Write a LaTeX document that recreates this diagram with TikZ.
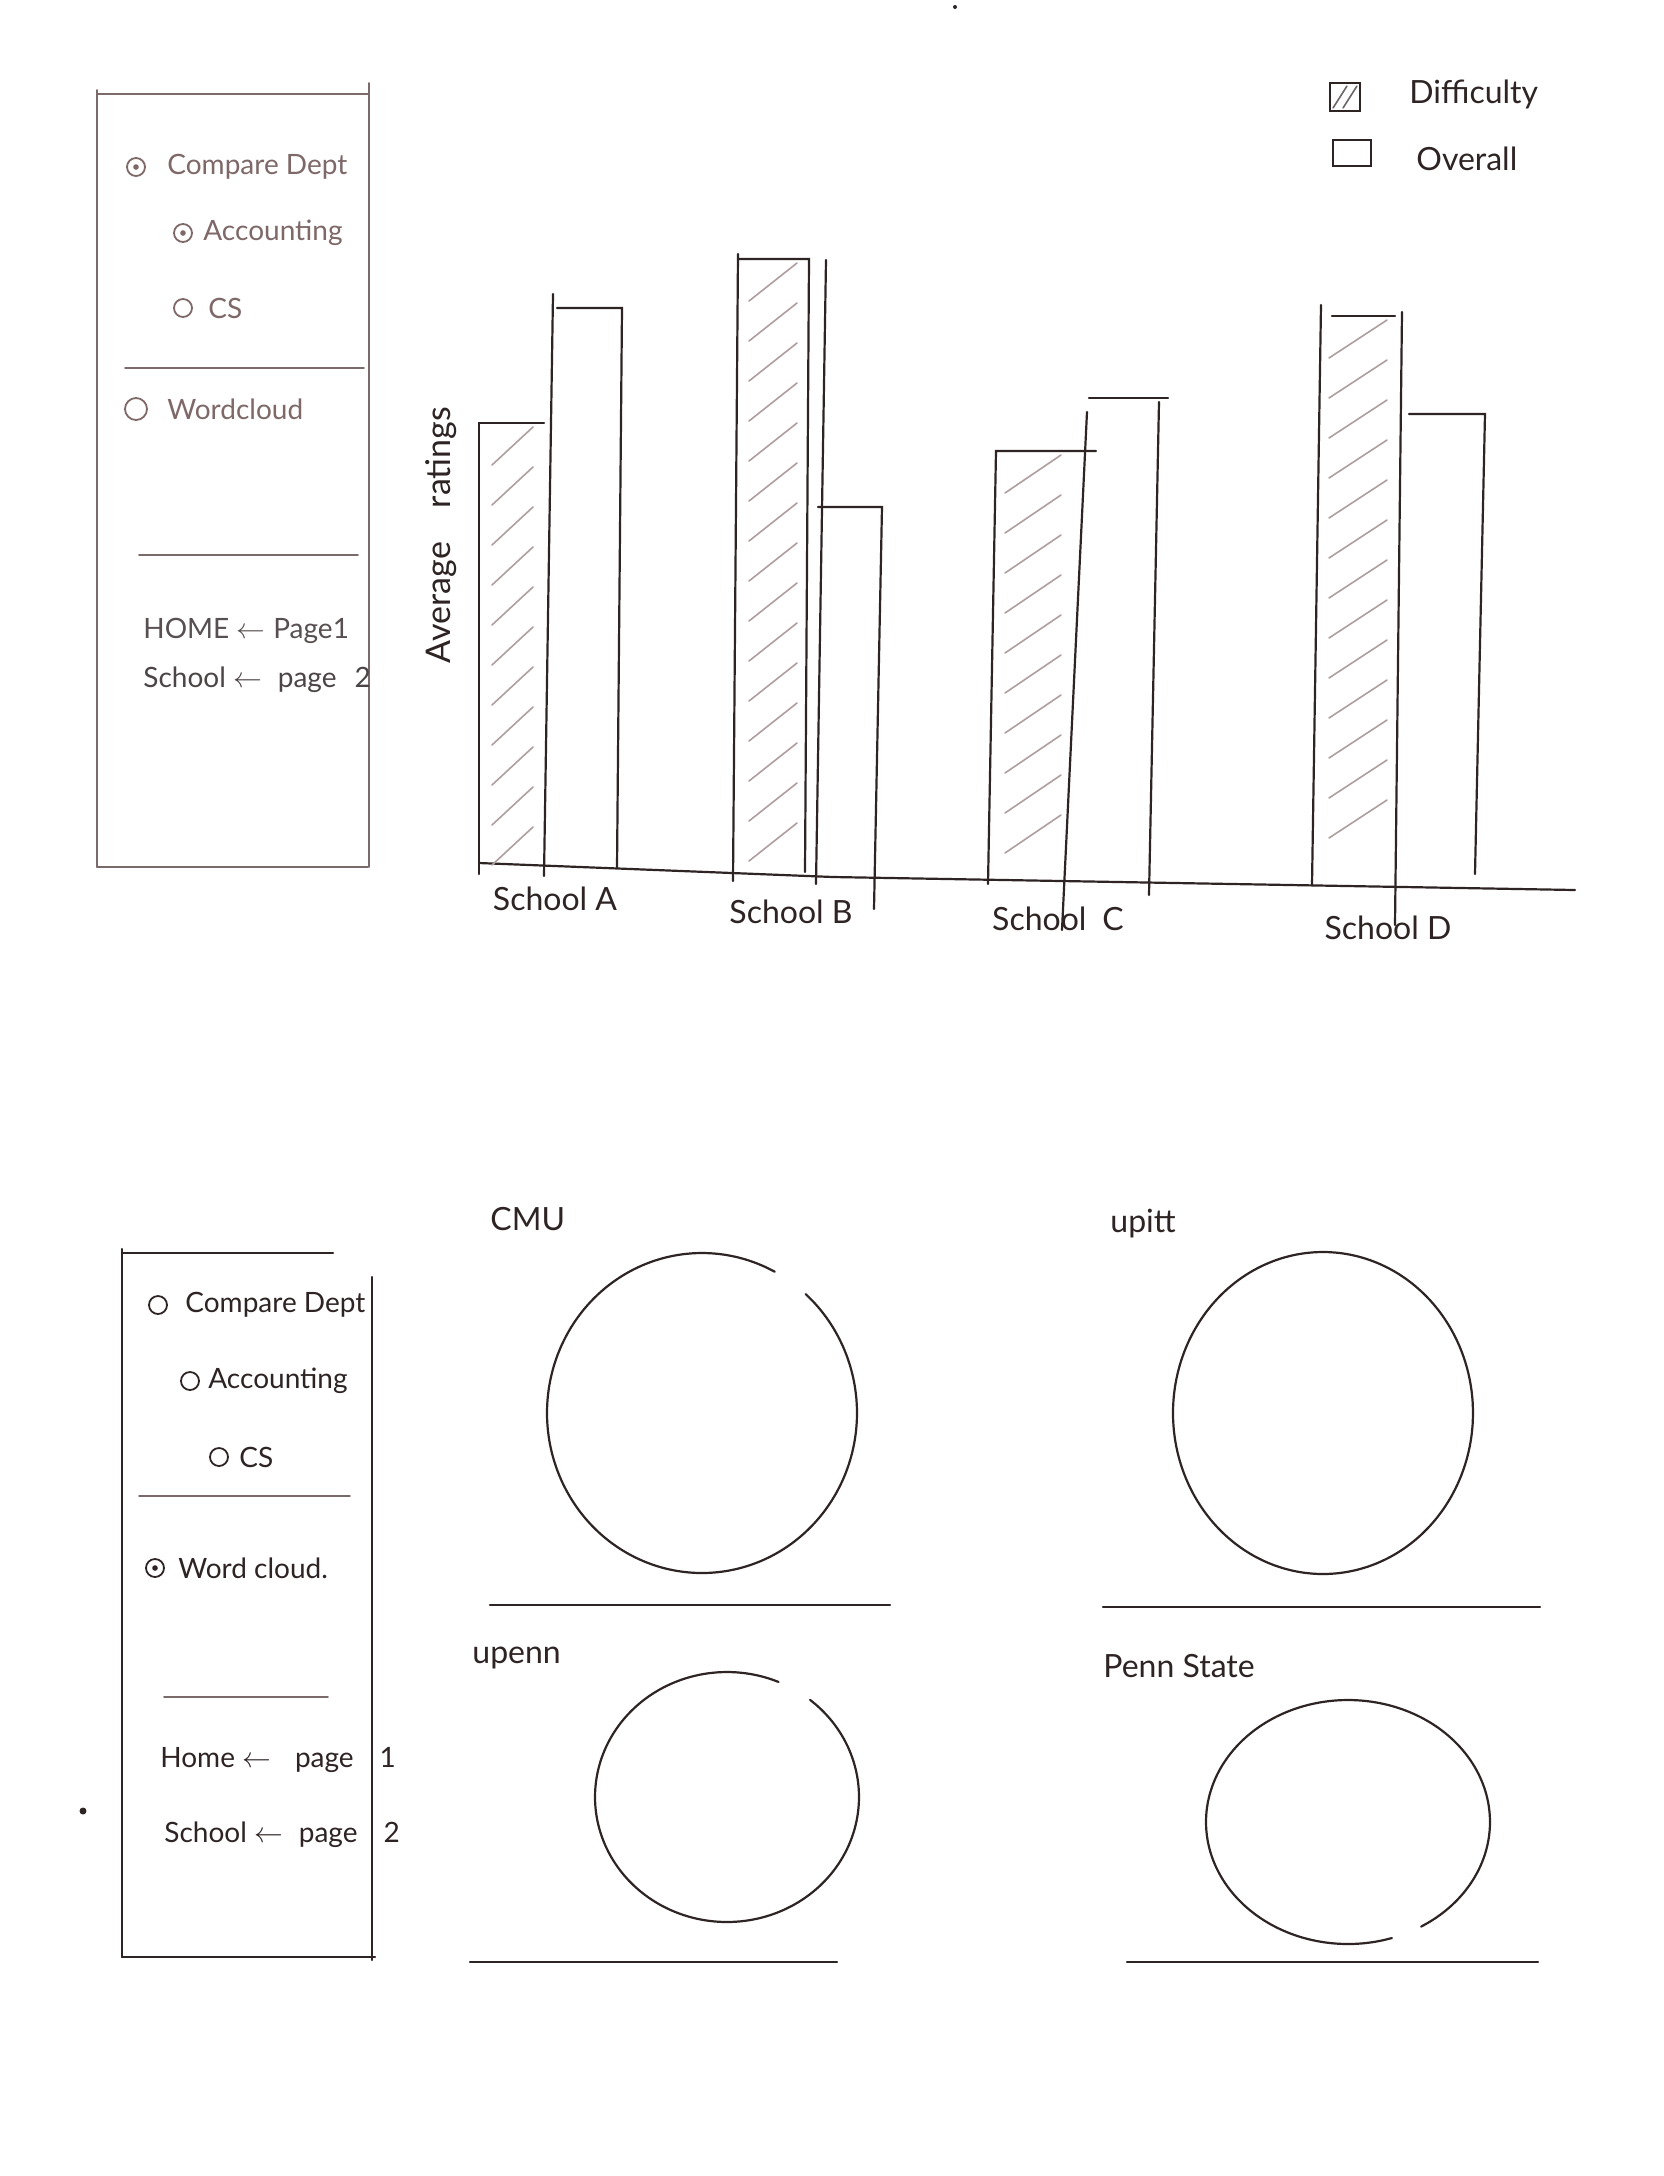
\documentclass[tikz,border=0pt]{standalone}
\usepackage{fontspec}
\setmainfont{Lato}
\definecolor{ink}{HTML}{2E2424}
\definecolor{pencilc}{HTML}{7A6A6A}
\definecolor{hatchc}{HTML}{AE9E9E}
\definecolor{softtext}{HTML}{7E6868}
% diagonal pen strokes inside a bar: left x, right x, top y, bottom y
\newcommand\hatchfill[4]{%
  \pgfmathsetmacro\hya{#3+42}\pgfmathsetmacro\hyb{#3+82}\pgfmathsetmacro\hyc{#4-4}%
  \foreach \hy in {\hya,\hyb,...,\hyc}{\draw[hatch] (#1+13,\hy) -- (#2-11,\hy-38);}}
\begin{document}
\begin{tikzpicture}[x=0.5pt,y=-0.5pt,
  pen/.style={draw=ink,line width=1.1pt,line cap=round},
  pencil/.style={draw=pencilc,line width=0.9pt,line cap=round},
  hatch/.style={draw=hatchc,line width=0.8pt,line cap=round},
  radio/.style={circle,draw=#1,line width=0.9pt,inner sep=0pt,minimum size=9pt},
  radio/.default=ink,
  lbl/.style={anchor=west,inner sep=0pt,text=#1,font=\fontsize{14}{17}\selectfont},
  lbl/.default=ink,
  tag/.style={inner sep=0pt,text=ink,font=\fontsize{16}{19}\selectfont},
  dotmark/.style={circle,fill=#1,inner sep=0pt,minimum size=2.8pt}]
% page
\useasboundingbox (0,0) rectangle (1664,2176);
\fill[white] (0,0) rectangle (1664,2176);

% ---------- page 1: sidebar ----------
\draw[pencil] (97,94) -- (368,94);
\draw[pencil] (97,90) -- (97,867);
\draw[pencil] (369,83) -- (369,867);
\draw[pencil] (97,867) -- (368,867);
\node[radio=softtext] (pa) at (136,167) {};
\node[dotmark=softtext] at (pa.center) {};
\node[lbl=softtext] (pat) at (167,167) {Compare Dept};
\node[radio=softtext] (pb) at (183,233) {};
\node[dotmark=softtext] at (pb.center) {};
\node[lbl=softtext] (pbt) at (203,233) {Accounting};
\node[radio=softtext] (pc) at (183,308) {};
\node[lbl=softtext] (pct) at (208,308) {CS};
\draw[pencil] (125,368) -- (364,368);
\node[radio=softtext,minimum size=11pt] (pd) at (136,409) {};
\node[lbl=softtext] (pdt) at (167,409) {Wordcloud};
\draw[pencil] (139,555) -- (358,555);
\node[lbl=ink!80] (ph) at (143,631) {HOME $\leftarrow$\hspace{4pt}Page1};
\node[lbl=ink!85] (ps) at (143,680) {School $\leftarrow$\hspace{8pt}page\hspace{9pt}2};

% ---------- page 1: legend ----------
\node[draw=ink,line width=0.9pt,minimum width=15pt,minimum height=14pt,inner sep=0pt] (legd) at (1345,97) {};
\draw[hatch,draw=ink!70] ([shift={(4,-4)}]legd.south west) -- ([shift={(-14,4)}]legd.north east);
\draw[hatch,draw=ink!70] ([shift={(14,-4)}]legd.south west) -- ([shift={(-4,4)}]legd.north east);
\node[tag,anchor=west] (legdt) at (1409,94) {Difficulty};
\node[draw=ink,line width=0.9pt,minimum width=19pt,minimum height=13pt,inner sep=0pt] (lego) at (1352,153) {};
\node[tag,anchor=west] (legot) at (1416,159) {Overall};

% ---------- page 1: bar chart ----------
\node[tag,rotate=90,font=\fontsize{17}{20}\selectfont] (ylab) at (441,535) {Average\quad ratings};
\draw[pen] (479,863) -- (833,877) -- (1575,890);

% School A
\hatchfill{479}{544}{423}{870}
\draw[pen] (479,874) -- (479,423) -- (544,423);
\draw[pen] (553,294) -- (544,876);
\draw[pen] (557,308) -- (622,308) -- (617,868);
% School B
\hatchfill{736}{808}{259}{878}
\draw[pen] (733,881) -- (738,254);
\draw[pen] (738,259) -- (809,259) -- (805,872);
\draw[pen] (826,260) -- (816,884);
\draw[pen] (818,507) -- (882,507) -- (874,909);
% School C
\hatchfill{992}{1072}{451}{880}
\draw[pen] (988,884) -- (996,451) -- (1096,451);
\draw[pen] (1087,412) -- (1062,930);
\draw[pen] (1089,398) -- (1168,398);
\draw[pen] (1159,402) -- (1149,895);
% School D
\hatchfill{1316}{1398}{316}{880}
\draw[pen] (1312,885) -- (1321,305);
\draw[pen] (1332,316) -- (1395,316);
\draw[pen] (1402,312) -- (1395,925);
\draw[pen] (1409,414) -- (1485,414) -- (1475,874);

\node[tag] (sa) at (555,899) {School A};
\node[tag] (sb) at (791,912) {School B};
\node[tag] (sc) at (1058,919) {School\enspace C};
\node[tag] (sd) at (1388,928) {School D};

% ---------- page 2: sidebar ----------
\draw[pen] (122,1253) -- (333,1253);
\draw[pen] (122,1249) -- (122,1957);
\draw[pen] (372,1277) -- (372,1960);
\draw[pen] (122,1957) -- (375,1957);
\node[radio] (qa) at (158,1305) {};
\node[lbl] (qat) at (185,1305) {Compare Dept};
\node[radio] (qb) at (190,1381) {};
\node[lbl] (qbt) at (208,1381) {Accounting};
\node[radio] (qc) at (219,1457) {};
\node[lbl] (qct) at (239,1457) {CS};
\draw[pencil] (139,1496) -- (350,1496);
\node[radio] (qd) at (155,1568) {};
\node[dotmark=ink] at (qd.center) {};
\node[lbl] (qdt) at (178,1568) {Word cloud.};
\draw[pencil] (164,1697) -- (328,1697);
\node[lbl] (qh) at (160,1760) {Home $\leftarrow$\hspace{12pt}page\hspace{13pt}1};
\node[lbl] (qs) at (164,1835) {School $\leftarrow$\hspace{8pt}page\hspace{13pt}2};

% ---------- page 2: word clouds ----------
\node[tag,anchor=west] (cmu) at (490,1219) {CMU};
\draw[pen] plot[domain=-48:298,samples=90,smooth] ({702+155*cos(\x)},{1413+160*sin(\x)});
\draw[pen] (490,1605) -- (890,1605);

\node[tag,anchor=west] (upitt) at (1110,1224) {upitt};
\draw[pen] plot[domain=0:360,samples=90,smooth] ({1323+150*cos(\x)},{1413+161*sin(\x)});
\draw[pen] (1103,1607) -- (1540,1607);

\node[tag,anchor=west] (upenn) at (472,1658) {upenn};
\draw[pen] plot[domain=-51:293,samples=90,smooth] ({727+132*cos(\x)},{1797+125*sin(\x)});
\draw[pen] (470,1962) -- (837,1962);

\node[tag,anchor=west] (penn) at (1103,1666) {Penn State};
\draw[pen] plot[domain=72:419,samples=90,smooth] ({1348+142*cos(\x)},{1822+122*sin(\x)});
\draw[pen] (1127,1962) -- (1538,1962);

% stray ink dots on the sheet
\node[dotmark=ink,minimum size=3.5pt] (d1) at (83,1811) {};
\node[dotmark=ink,minimum size=2pt] (d2) at (955,7) {};
\end{tikzpicture}
\end{document}
